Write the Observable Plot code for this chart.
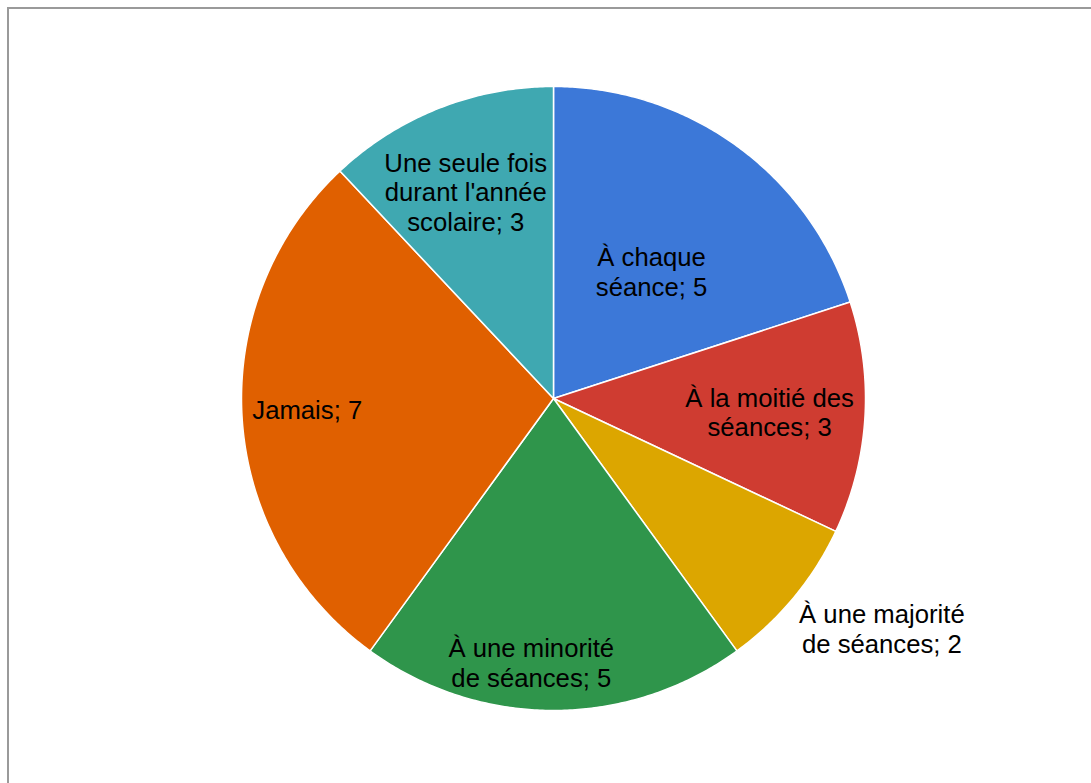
<!DOCTYPE html>
<html>
<head>
<meta charset="utf-8">
<script src="https://cdn.jsdelivr.net/npm/d3@7"></script>
<script src="https://cdn.jsdelivr.net/npm/@observablehq/plot@0.6"></script>
<style>
  html, body { margin: 0; padding: 0; background: #fff; overflow: hidden; }
  #wrap { position: relative; width: 1091px; height: 783px; }
  #frame { position: absolute; left: 7px; top: 7px; width: 1200px; height: 900px;
           border-left: 2px solid #9a9a9a; border-top: 2px solid #9a9a9a; pointer-events: none; }
  #chart { position: absolute; left: 0; top: 0; }
</style>
</head>
<body>
<div id="wrap"><div id="chart"></div><div id="frame"></div></div>
<script>
// ---- data ----
const categories = [
  "À chaque séance",
  "À la moitié des séances",
  "À une majorité de séances",
  "À une minorité de séances",
  "Jamais",
  "Une seule fois durant l'année scolaire"
];
const values = [5, 3, 2, 5, 7, 3];
const wrappedLabels = [
  "À chaque\nséance",
  "À la moitié des\nséances",
  "À une majorité\nde séances",
  "À une minorité\nde séances",
  "Jamais",
  "Une seule fois\ndurant l'année\nscolaire"
];
const colors = ["#3c78d8", "#cf3c31", "#dca600", "#2f954b", "#e06000", "#3fa8b1"];

// ---- layout (style only) ----
const W = 1091, H = 783;
const cx = 553, cy = 398, R = 312;
const labelRadius = [0.514, 0.694, 1.285, 0.85, 0.79, 0.72];
const labelAngleShift = [1.7, 0, -4.6, 4.8, 1.0, -1.4]; // degrees

const pie = d3.pie().sort(null).value(d => d)(values);
const pt = (a, r) => ({ x: cx + r * Math.sin(a), y: cy - r * Math.cos(a) });

const slicePts = [];
pie.forEach((p, i) => {
  const cat = categories[i];
  slicePts.push({ cat, ...pt(0, 0) });
  const n = Math.max(2, Math.ceil((p.endAngle - p.startAngle) / (Math.PI / 360)));
  for (let k = 0; k <= n; k++) {
    const a = p.startAngle + (p.endAngle - p.startAngle) * k / n;
    slicePts.push({ cat, ...pt(a, R) });
  }
  slicePts.push({ cat, ...pt(0, 0) });
});

const labels = pie.map((p, i) => {
  const mid = (p.startAngle + p.endAngle) / 2 + labelAngleShift[i] * Math.PI / 180;
  const q = pt(mid, labelRadius[i] * R);
  return { cat: categories[i], x: q.x, y: q.y, text: wrappedLabels[i] + "; " + values[i] };
});

const chart = Plot.plot({
  width: W, height: H, margin: 0,
  style: { background: "transparent" },
  x: { domain: [0, W], range: [0, W], axis: null },
  y: { domain: [0, H], range: [0, H], axis: null },
  color: { domain: categories, range: colors },
  marks: [
    Plot.line(slicePts, { x: "x", y: "y", z: "cat", fill: "cat", stroke: "white", strokeWidth: 1.5, curve: "linear" }),
    Plot.text(labels, { x: "x", y: "y", text: "text", fontSize: 25.7, lineHeight: 1.148,
      fill: "black", fontFamily: "'Liberation Sans', Arial, sans-serif", textAnchor: "middle", lineAnchor: "middle" })
  ]
});
document.getElementById("chart").appendChild(chart);
</script>
</body>
</html>
